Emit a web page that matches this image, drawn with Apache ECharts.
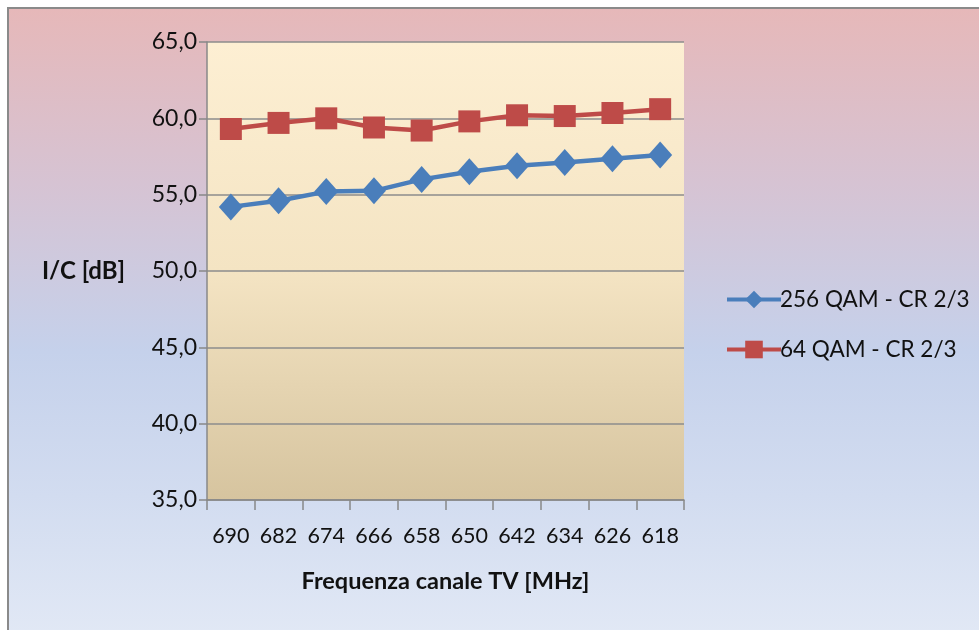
<!DOCTYPE html>
<html>
<head>
<meta charset="utf-8">
<script src="https://cdn.jsdelivr.net/npm/echarts@6/dist/echarts.min.js"></script>
<style>
  html, body { margin: 0; padding: 0; background: #fff; }
  #frame {
    position: absolute; left: 7px; top: 7px; width: 972px; height: 623px;
    border-left: 2px solid #8a8a8a; border-top: 2px solid #8a8a8a;
    background: linear-gradient(to bottom, #e6b8b9 0%, #d6c3d3 28%, #c5d1eb 55%, #d2dcf0 78%, #e1e8f5 100%);
  }
  #chart { position: absolute; left: 0; top: 0; width: 979px; height: 630px; }
</style>
</head>
<body>
<div id="frame"></div>
<div id="chart"></div>
<script>
// channel frequencies (MHz), descending as in the sheet
const channels = ['690', '682', '674', '666', '658', '650', '642', '634', '626', '618']
const qam256 = [54.2, 54.6, 55.2, 55.25, 56.0, 56.5, 56.9, 57.1, 57.35, 57.6]
const qam64 = [59.3, 59.7, 60.0, 59.4, 59.2, 59.8, 60.2, 60.15, 60.35, 60.6]
const seriesNames = ['256 QAM - CR 2/3', '64 QAM - CR 2/3']

const font = 'Lato'
var chart = echarts.init(document.getElementById('chart'), null, {renderer: 'canvas'})

var option = {
    backgroundColor: 'transparent',
    animation: false,
    legend: {
        orient: 'vertical',
        left: 720,
        top: 283,
        itemGap: 27,
        itemWidth: 54,
        itemHeight: 22,
        lineStyle: {width: 4},
        textStyle: {fontFamily: font, fontSize: 22.5, color: '#111', padding: [0, 0, 0, -6]},
        data: seriesNames
    },
    grid: {
        left: 207,
        right: 295,
        top: 42,
        bottom: 130,
        show: true,
        borderWidth: 0,
        backgroundColor: new echarts.graphic.LinearGradient(0, 0, 0, 1, [
            {offset: 0, color: '#fdefd3'},
            {offset: 0.5, color: '#f4e4c3'},
            {offset: 1, color: '#d6c49f'}
        ])
    },
    xAxis: {
        type: 'category',
        data: channels,
        boundaryGap: true,
        name: 'Frequenza canale TV [MHz]',
        nameLocation: 'middle',
        nameGap: 69,
        nameTextStyle: {fontFamily: font, fontSize: 23.5, fontWeight: 'bold', color: '#111'},
        axisLine: {lineStyle: {color: '#888', width: 1.5}},
        axisTick: {show: true, interval: 0, length: 10, lineStyle: {color: '#888', width: 1.5}},
        axisLabel: {interval: 0, hideOverlap: false, fontFamily: font, fontSize: 21.5, color: '#111', margin: 25}
    },
    yAxis: {
        type: 'value',
        min: 35,
        max: 65,
        interval: 5,
        name: 'I/C [dB]',
        nameLocation: 'middle',
        nameRotate: 0,
        nameGap: 82,
        nameTextStyle: {fontFamily: font, fontSize: 24, fontWeight: 'bold', color: '#111'},
        axisLine: {show: true, lineStyle: {color: '#888', width: 1.5}},
        axisTick: {show: true, length: 8, lineStyle: {color: '#888', width: 1.5}},
        axisLabel: {
            fontFamily: font, fontSize: 23, color: '#111', margin: 10,
            formatter: v => v.toFixed(1).replace('.', ',')
        },
        splitLine: {lineStyle: {color: '#8c8c8c', width: 1.5}}
    },
    series: [
        {
            name: seriesNames[0],
            type: 'line',
            data: qam256,
            symbol: 'diamond',
            symbolSize: [24, 27],
            itemStyle: {color: '#4a7ebb'},
            lineStyle: {color: '#4a7ebb', width: 4.5}
        },
        {
            name: seriesNames[1],
            type: 'line',
            data: qam64,
            symbol: 'rect',
            symbolSize: 22,
            itemStyle: {color: '#be4b48'},
            lineStyle: {color: '#be4b48', width: 4.5}
        }
    ]
}

chart.setOption(option)
</script>
</body>
</html>
